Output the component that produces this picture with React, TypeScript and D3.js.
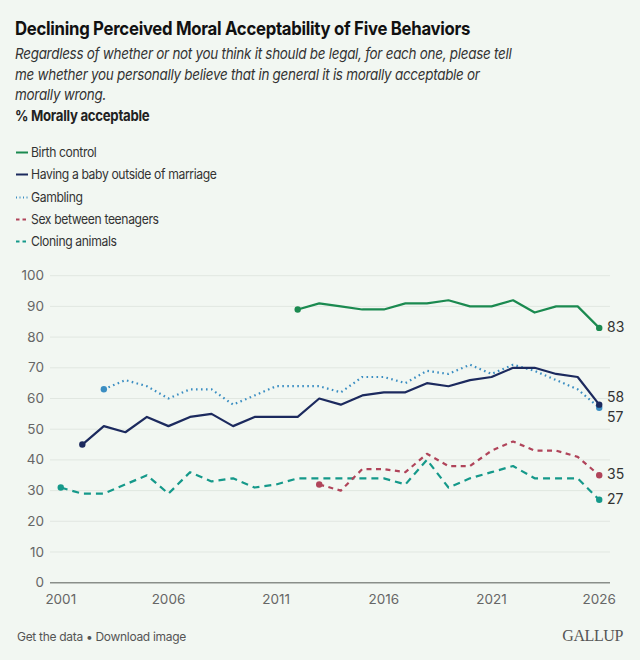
import React from "react";
import * as d3 from "d3";

const years = d3.range(2001, 2027);
// values per year 2001..2026, null = not asked
const birthControl: (number | null)[] = [null, null, null, null, null, null, null, null, null, null, null, 89, 91, 90, 89, 89, 91, 91, 92, 90, 90, 92, 88, 90, 90, 83];
const babyOutside: (number | null)[] = [null, 45, 51, 49, 54, 51, 54, 55, 51, 54, 54, 54, 60, 58, 61, 62, 62, 65, 64, 66, 67, 70, 70, 68, 67, 58];
const gambling: (number | null)[] = [null, null, 63, 66, 64, 60, 63, 63, 58, 61, 64, 64, 64, 62, 67, 67, 65, 69, 68, 71, 68, 71, 69, 66, 63, 57];
const sexTeens: (number | null)[] = [null, null, null, null, null, null, null, null, null, null, null, null, 32, 30, 37, 37, 36, 42, 38, 38, 43, 46, 43, 43, 41, 35];
const cloning: (number | null)[] = [31, 29, 29, 32, 35, 29, 36, 33, 34, 31, 32, 34, 34, 34, 34, 34, 32, 40, 31, 34, 36, 38, 34, 34, 34, 27];

const yTicks = [0, 10, 20, 30, 40, 50, 60, 70, 80, 90, 100];
const xTicks = [2001, 2006, 2011, 2016, 2021, 2026];

const series = [
  { name: "Birth control", values: birthControl, color: "#1b8a50", dash: "none", legendDash: "none", label: "83", labelDy: 4 },
  { name: "Having a baby outside of marriage", values: babyOutside, color: "#1c2a5e", dash: "none", legendDash: "none", label: "58", labelDy: -3 },
  { name: "Gambling", values: gambling, color: "#3b8ec2", dash: "1.6,3.4", legendDash: "1,2.5", label: "57", labelDy: 14 },
  { name: "Sex between teenagers", values: sexTeens, color: "#b0445a", dash: "5,4.5", legendDash: "3.5,3", label: "35", labelDy: 4 },
  { name: "Cloning animals", values: cloning, color: "#15998a", dash: "7,5", legendDash: "3.5,3", label: "27", labelDy: 4 },
];

const W = 640;
const H = 660;
const FONT = "Inter, 'Noto Sans', sans-serif";

export default function App() {
  const x = d3.scaleLinear().domain([2000.5, 2026.5]).range([50, 610]);
  const y = d3.scaleLinear().domain([0, 100]).range([582.7, 275.7]);

  const line = d3
    .line<[number, number | null]>()
    .defined((d) => d[1] !== null)
    .x((d) => x(d[0]))
    .y((d) => y(d[1] as number));

  const legendY = [157, 179, 202, 224, 246];

  return (
    <div style={{ position: "absolute", left: 0, top: 0 }}>
      <svg width={W} height={H} style={{ display: "block", fontFamily: FONT }}>
        <rect width={W} height={H} fill="#f2f7f2" />
        <g transform="translate(15,0) scale(0.905,1)">
          <text x={0} y={35} fontSize={18.5} fontWeight={700} fill="#111" letterSpacing={-0.3}>
            Declining Perceived Moral Acceptability of Five Behaviors
          </text>
        </g>
        <g transform="translate(15,0) scale(0.897,1)" fontSize={15} fontStyle="italic" fill="#333" letterSpacing={-0.3}>
          <text x={0} y={59}>Regardless of whether or not you think it should be legal, for each one, please tell</text>
          <text x={0} y={80}>me whether you personally believe that in general it is morally acceptable or</text>
          <text x={0} y={100}>morally wrong.</text>
        </g>
        <g transform="translate(15,0) scale(0.88,1)">
          <text x={0} y={121} fontSize={15} fontWeight={700} fill="#222" letterSpacing={-0.3}>
            % Morally acceptable
          </text>
        </g>

        {series.map((s, i) => (
          <g key={s.name}>
            <line
              x1={16}
              x2={28}
              y1={legendY[i] - 4.5}
              y2={legendY[i] - 4.5}
              stroke={s.color}
              strokeWidth={2}
              strokeDasharray={s.legendDash === "none" ? undefined : s.legendDash}
            />
            <g transform="translate(31,0) scale(0.9,1)">
              <text x={0} y={legendY[i]} fontSize={13.5} fill="#333" letterSpacing={-0.4}>
                {s.name}
              </text>
            </g>
          </g>
        ))}

        {yTicks.map((t) => (
          <g key={t}>
            {t !== 0 && (
              <line x1={50} x2={610} y1={y(t)} y2={y(t)} stroke="#e1e7e1" strokeWidth={1} />
            )}
            <text x={44} y={y(t) + 4.5} textAnchor="end" fontSize={13.5} fill="#666">
              {t}
            </text>
          </g>
        ))}
        <line x1={50} x2={610} y1={y(0)} y2={y(0)} stroke="#8a8f8a" strokeWidth={1.5} />
        {xTicks.map((t) => (
          <text key={t} x={x(t)} y={604} textAnchor="middle" fontSize={13.5} fill="#666">
            {t}
          </text>
        ))}

        {[...series].reverse().map((s) => {
          const pts: [number, number | null][] = years.map((yr, i) => [yr, s.values[i]]);
          const defined = pts.filter((p) => p[1] !== null) as [number, number][];
          const first = defined[0];
          const last = defined[defined.length - 1];
          return (
            <g key={s.name}>
              <path
                d={line(pts) || ""}
                fill="none"
                stroke={s.color}
                strokeWidth={2.2}
                strokeDasharray={s.dash === "none" ? undefined : s.dash}
                strokeLinejoin="round"
              />
              <circle cx={x(first[0])} cy={y(first[1])} r={3.2} fill={s.color} />
              <circle cx={x(last[0])} cy={y(last[1])} r={3.2} fill={s.color} />
            </g>
          );
        })}
        {series.map((s) => {
          const lastVal = s.values[s.values.length - 1] as number;
          return (
            <text key={s.name} x={607} y={y(lastVal) + s.labelDy} fontSize={14} fill="#333">
              {s.label}
            </text>
          );
        })}

        <text x={17} y={641} fontSize={12} fill="#555" letterSpacing={-0.3}>
          Get the data • Download image
        </text>
        <text x={623} y={641} textAnchor="end" fontSize={16} fill="#555" fontFamily="'Liberation Serif', 'DejaVu Serif', serif" letterSpacing={-0.4}>
          GALLUP
        </text>
      </svg>
    </div>
  );
}
